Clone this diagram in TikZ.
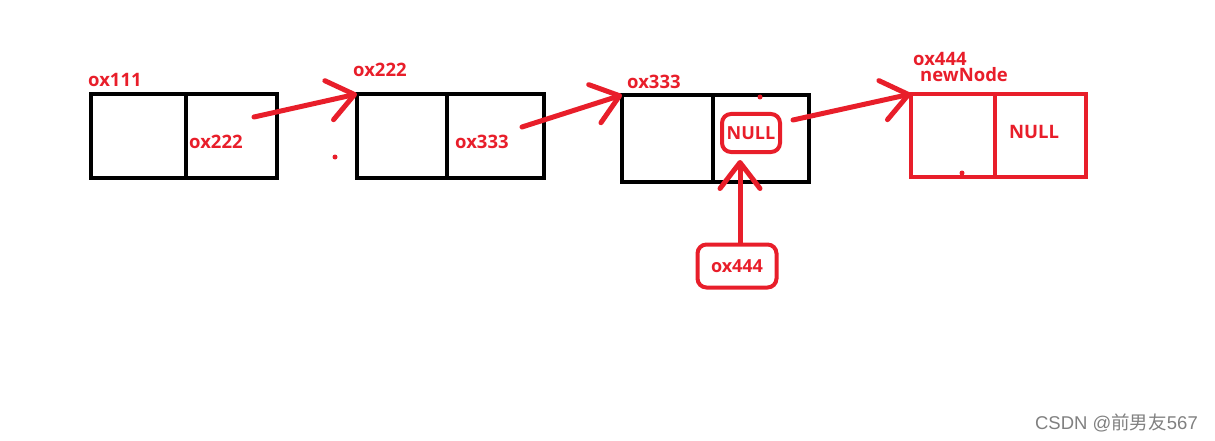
\documentclass[tikz,border=0pt]{standalone}
\usepackage{fontspec}
\setmainfont{Open Sans}
\newfontfamily\cjkfont{Noto Sans CJK SC}
\newfontfamily\markfont{Liberation Sans}
\usetikzlibrary{arrows.meta, positioning}
\definecolor{penred}{RGB}{232,30,42}

\begin{document}
\begin{tikzpicture}[x=1pt, y=-1pt,
    cell/.style={draw, line width=4pt, outer sep=0pt, inner sep=0pt, minimum height=84pt},
    addr/.style={text=penred, font=\bfseries\fontsize{18.5}{18.5}\selectfont, inner sep=0pt, anchor=west},
    ring/.style={draw=penred, line width=4pt, rounded corners=9pt, text=penred,
      font=\bfseries\fontsize{18}{18}\selectfont, inner sep=0pt},
    pen/.style={draw=penred, line width=5pt, line cap=round,
      -{Straight Barb[round, length=26pt, width=40pt]}}]
    \useasboundingbox (0,0) rectangle (1215,441);

    % first three nodes of the list
    \node[cell, minimum width=95pt] (a1) at (138.5,136) {};
    \node[cell, minimum width=91pt, right=0pt of a1] (a2) {};
    \node[cell, minimum width=90pt] (b1) at (402,136) {};
    \node[cell, minimum width=97pt, right=0pt of b1] (b2) {};
    \node[cell, minimum width=91pt, minimum height=87pt] (c1) at (667.5,138.5) {};
    \node[cell, minimum width=96pt, minimum height=87pt, right=0pt of c1] (c2) {};

    % the new node
    \node[cell, draw=penred, minimum width=84pt, minimum height=83pt] (d1) at (953,135.5) {};
    \node[cell, draw=penred, minimum width=91pt, minimum height=83pt, right=0pt of d1] (d2) {};

    % addresses
    \node[addr] (la) at (88,80) {ox111};
    \node[addr] (lb) at (353,70) {ox222};
    \node[addr] (lc) at (627,82) {ox333};
    \node[addr] (ld) at (913,59) {ox444};
    \node[addr] (ln) at (920,75) {newNode};
    \node[addr] (na) at (189,142) {ox222};
    \node[addr] (nb) at (455,142) {ox333};
    \node[ring, minimum width=58pt, minimum height=38pt] (nc) at (751,133) {NULL};
    \node[addr, anchor=center] (nd) at (1034,132) {NULL};
    \node[ring, minimum width=79pt, minimum height=43pt] (p4) at (737,266) {ox444};

    % links
    \coordinate (s1) at (254,117);
    \coordinate (s2) at (522,127);
    \coordinate (s3) at (793,120);
    \draw[pen] (s1) -- (b1.north west);
    \draw[pen] (s2) -- (c1.north west);
    \draw[pen] (s3) -- (d1.north west);
    \draw[pen] ([xshift=3pt]p4.north) -- ([xshift=3pt, yshift=-6pt]p4.north |- nc.south);

    % stray dots
    \fill[penred] (335,157) circle (2.5pt);
    \fill[penred] (760,97) circle (2.5pt);
    \fill[penred] (962,173) circle (2.5pt);

    \node[text=gray, font=\fontsize{18.5}{18.5}\selectfont, anchor=east, inner sep=0pt] (wm) at (1198,423)
      {\markfont CSDN @\cjkfont 前男友\markfont 567};
\end{tikzpicture}
\end{document}
